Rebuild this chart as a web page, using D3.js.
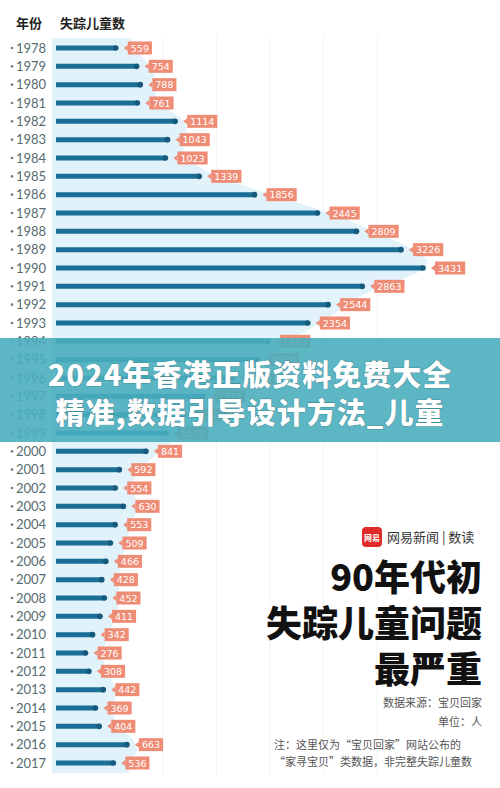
<!DOCTYPE html>
<html>
<head>
<meta charset="utf-8">
<script src="https://cdn.jsdelivr.net/npm/d3@7"></script>
<style>
  body { margin: 0; background: #fff; }
  svg { display: block; font-family: "Noto Sans CJK SC", "Noto Sans", sans-serif; }
</style>
</head>
<body>
<div id="chart"></div>
<script>
const years = ['1978','1979','1980','1981','1982','1983','1984','1985','1986','1987',
  '1988','1989','1990','1991','1992','1993','1994','1995','1996','1997',
  '1998','1999','2000','2001','2002','2003','2004','2005','2006','2007',
  '2008','2009','2010','2011','2012','2013','2014','2015','2016','2017']
const missing = [559, 754, 788, 761, 1114, 1043, 1023, 1339, 1856, 2445,
  2809, 3226, 3431, 2863, 2544, 2354, 1983, 1878, 1650, 1374,
  1200, 1028, 841, 592, 554, 630, 553, 509, 466, 428,
  452, 411, 342, 276, 308, 442, 369, 404, 663, 536]
const gridTicks = [500, 1000, 1500, 2000, 2500, 3000]
const bannerLines = ['2024年香港正版资料免费大全', '精准,数据引导设计方法_儿童']
const titleLines = ['90年代初', '失踪儿童问题', '最严重']
const noteLines = ['注：这里仅为“宝贝回家”网站公布的', '“家寻宝贝”类数据，非完整失踪儿童数']

const width = 500, height = 788
const svg = d3.select('#chart').append('svg')
  .attr('width', width)
  .attr('height', height)

const x = d3.scaleLinear().domain([0, 3431]).range([56, 423])
const y = d3.scalePoint().domain(years).range([48, 763])
const data = years.map((d, i) => ({year: d, value: missing[i]}))

// faint grid
svg.selectAll('line.grid')
  .data(gridTicks)
  .enter().append('line')
  .attr('class', 'grid')
  .attr('x1', d => x(d)).attr('x2', d => x(d))
  .attr('y1', 36).attr('y2', 775)
  .attr('stroke', '#f2f4f5')
  .attr('stroke-width', 1)

// light blue backdrop shape
const areaPts = [{year: years[0], value: missing[0], dy: -10}]
  .concat(data.map(d => ({year: d.year, value: d.value, dy: 0})))
  .concat([{year: years[years.length - 1], value: missing[missing.length - 1], dy: 10}])
const area = d3.area()
  .y(d => y(d.year) + d.dy)
  .x0(52)
  .x1(d => x(d.value) + 16)
  .curve(d3.curveBasis)
svg.append('path')
  .datum(areaPts)
  .attr('d', area)
  .attr('fill', '#e1f2fa')

// headers
svg.append('text').attr('x', 16).attr('y', 28)
  .attr('font-size', 13).attr('font-weight', 700).attr('fill', '#222')
  .text('年份')
svg.append('text').attr('x', 60).attr('y', 28)
  .attr('font-size', 13).attr('font-weight', 700).attr('fill', '#222')
  .text('失踪儿童数')

const row = svg.selectAll('g.row')
  .data(data)
  .enter().append('g')
  .attr('class', 'row')
  .attr('transform', d => `translate(0,${y(d.year)})`)

row.append('circle')
  .attr('cx', 12).attr('cy', 0).attr('r', 1.3)
  .attr('fill', '#6a7f84')
row.append('text')
  .attr('x', 16).attr('y', 4.5)
  .attr('font-size', 13)
  .attr('fill', '#566b70')
  .attr('font-family', 'Lato, "Noto Sans", sans-serif')
  .text(d => d.year)

row.append('line')
  .attr('x1', x(0)).attr('x2', d => x(d.value))
  .attr('y1', 0).attr('y2', 0)
  .attr('stroke', '#1b6e96')
  .attr('stroke-width', 5)
row.append('circle')
  .attr('cx', d => x(d.value)).attr('cy', 0).attr('r', 2.8)
  .attr('fill', '#155a7c')

// value tags
const tag = row.append('g')
  .attr('transform', d => `translate(${x(d.value) + 8},0)`)
tag.append('path')
  .attr('d', 'M0,0 L4,-3 L4,3 Z')
  .attr('fill', '#ef8c76')
tag.append('text')
  .attr('x', 7).attr('y', 3.5)
  .attr('font-size', 9.5)
  .attr('fill', '#fff')
  .attr('font-family', '"DejaVu Sans", sans-serif')
  .text(d => d.value)
  .each(function() {
    const b = this.getBBox()
    d3.select(this.parentNode).insert('rect', 'text')
      .attr('x', 4).attr('y', -6.5)
      .attr('width', b.width + 6).attr('height', 13)
      .attr('fill', '#ef8c76')
  })

// overlay banner
svg.append('rect')
  .attr('x', 0).attr('y', 338)
  .attr('width', width).attr('height', 104)
  .attr('fill', '#4aaebe')
  .attr('opacity', 0.9)
svg.selectAll('text.banner')
  .data(bannerLines)
  .enter().append('text')
  .attr('class', 'banner')
  .attr('x', 250)
  .attr('y', (d, i) => 386 + i * 38)
  .attr('text-anchor', 'middle')
  .attr('font-size', 29)
  .attr('letter-spacing', 1)
  .attr('font-weight', 900)
  .attr('fill', '#fff')
  .attr('stroke', '#2f6f78')
  .attr('stroke-width', 0.6)
  .attr('paint-order', 'stroke')
  .text(d => d)

// brand
svg.append('rect')
  .attr('x', 362).attr('y', 527)
  .attr('width', 20).attr('height', 20).attr('rx', 4)
  .attr('fill', '#e02b2b')
svg.append('text')
  .attr('x', 372).attr('y', 541)
  .attr('text-anchor', 'middle')
  .attr('font-size', 8).attr('font-weight', 700).attr('fill', '#fff')
  .text('网易')
svg.append('text')
  .attr('x', 387).attr('y', 542)
  .attr('font-size', 13).attr('fill', '#333')
  .text('网易新闻 | 数读')

// title
svg.selectAll('text.title')
  .data(titleLines)
  .enter().append('text')
  .attr('class', 'title')
  .attr('x', 482)
  .attr('y', (d, i) => 591 + i * 46)
  .attr('text-anchor', 'end')
  .attr('font-size', 36)
  .attr('font-weight', 900)
  .attr('fill', '#111')
  .text(d => d)

svg.append('text')
  .attr('x', 482).attr('y', 707)
  .attr('text-anchor', 'end')
  .attr('font-size', 11).attr('fill', '#555')
  .text('数据来源：宝贝回家')
svg.append('text')
  .attr('x', 482).attr('y', 726)
  .attr('text-anchor', 'end')
  .attr('font-size', 11).attr('fill', '#555')
  .text('单位：人')
svg.selectAll('text.note')
  .data(noteLines)
  .enter().append('text')
  .attr('class', 'note')
  .attr('x', 274)
  .attr('y', (d, i) => 749 + i * 17)
  .attr('font-size', 11).attr('fill', '#555')
  .text(d => d)
</script>
</body>
</html>
